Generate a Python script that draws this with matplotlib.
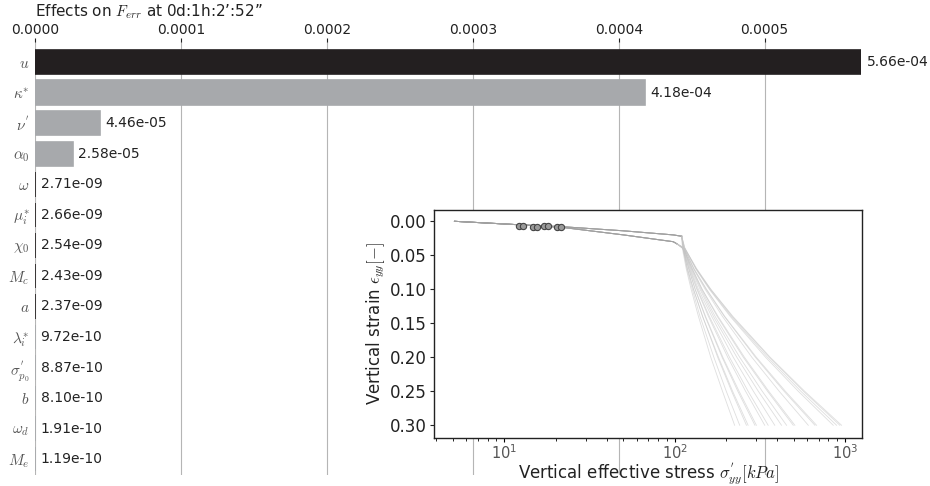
import matplotlib
matplotlib.use("Agg")
import matplotlib.pyplot as plt
import numpy as np

plt.rcParams["mathtext.fontset"] = "cm"
plt.rcParams["font.family"] = ["DejaVu Sans"]

# sensitivity bars
params = [r"$u$", r"$\kappa^{*}$", r"$\nu^{'}$", r"$\alpha_{0}$", r"$\omega$",
          r"$\mu_{i}^{*}$", r"$\chi_{0}$", r"$M_{c}$", r"$a$", r"$\lambda_{i}^{*}$",
          r"$\sigma^{'}_{p_0}$", r"$b$", r"$\omega_{d}$", r"$M_{e}$"]
effects = [5.66e-04, 4.18e-04, 4.46e-05, 2.58e-05, 2.71e-09, 2.66e-09, 2.54e-09,
           2.43e-09, 2.37e-09, 9.72e-10, 8.87e-10, 8.10e-10, 1.91e-10, 1.19e-10]
dark = [True, False, False, False, True, True, True, True, True,
        False, False, False, False, False]

# inset: oedometer curves, shared part before yield
upper_x = [5.1, 12, 22, 50, 98, 110]
upper_y = [0.0, 0.005, 0.008, 0.014, 0.020, 0.022]
lower_x = [5.1, 12, 22, 50, 98, 103]
lower_y = [0.0, 0.005, 0.009, 0.020, 0.030, 0.033]

# post-yield: stress (kPa) reached at each strain level, one row per curve
post_strain = [0.04, 0.07, 0.10, 0.14, 0.20, 0.25, 0.30]
post_stress = [
    [111, 117, 125, 138, 163, 191, 225],
    [112, 118, 127, 141, 170, 201, 241],
    [112, 119, 129, 146, 179, 216, 264],
    [112, 119, 129, 146, 181, 219, 270],
    [112, 121, 132, 151, 190, 235, 296],
    [112, 121, 132, 152, 192, 239, 302],
    [112, 122, 135, 158, 205, 261, 338],
    [113, 123, 136, 160, 210, 270, 354],
    [113, 124, 138, 165, 221, 290, 387],
    [113, 125, 141, 169, 232, 310, 424],
    [113, 126, 143, 173, 241, 327, 454],
    [113, 127, 145, 178, 253, 351, 497],
    [113, 127, 145, 180, 257, 357, 508],
    [114, 129, 151, 191, 284, 411, 609],
    [114, 130, 153, 196, 298, 439, 666],
    [114, 130, 154, 197, 302, 447, 681],
    [115, 133, 160, 212, 342, 532, 853],
    [115, 134, 161, 215, 351, 551, 893],
    [115, 134, 163, 218, 360, 570, 933],
    [115, 135, 163, 220, 364, 580, 955],
]
branch = ["up", "low", "up", "low", "low", "up", "low", "up", "up", "low",
          "low", "up", "low", "up", "low", "up", "up", "low", "up", "low"]

# markers on the first loading path
mark_x = [12.2, 12.9, 14.8, 15.6, 17.2, 18.1, 20.5, 21.4]
mark_y = [0.007, 0.007, 0.008, 0.008, 0.007, 0.007, 0.008, 0.008]

fig = plt.figure(figsize=(9.3, 4.86), dpi=100)
ax = fig.add_axes([0.0376, 0.0226, 0.8882, 0.891])

black = "#231f20"
grey = "#a7a9ac"
ypos = np.arange(len(params))
cols = [black if d else grey for d in dark]
ax.barh(ypos, effects, height=0.8, color=cols, edgecolor=cols, linewidth=1.2, zorder=2)
for y, v in zip(ypos, effects):
    ax.annotate(f"{v:.2e}", (v, y), xytext=(4, 0), textcoords="offset points",
                va="center", ha="left", fontsize=10, color="#222222")

ax.set_xlim(0, 5.66e-04)
ax.set_ylim(13.52, -0.66)
ax.xaxis.tick_top()
ax.set_xticks([0, 1e-4, 2e-4, 3e-4, 4e-4, 5e-4])
ax.set_xticklabels(["0.0000", "0.0001", "0.0002", "0.0003", "0.0004", "0.0005"])
ax.tick_params(axis="x", length=3, labelsize=10, colors="#222222", pad=0.5)
ax.set_yticks(ypos)
ax.set_yticklabels(params, fontsize=11, color="#555555")
ax.tick_params(axis="y", length=0, pad=4)
ax.grid(axis="x", color="#b5b5b5", linewidth=0.8, zorder=0)
for s in ax.spines.values():
    s.set_visible(False)

fig.text(0.0376, 1 - 12 / 486, "Effects on $F_{err}$ at 0d:1h:2\u2019:52\u201d",
         fontsize=11, color="#222222", va="center", ha="left")

# inset
ins = fig.add_axes([0.4667, 0.0988, 0.4602, 0.4691])
ins.set_facecolor("white")
for row, br in zip(post_stress, branch):
    if br == "up":
        ins.plot(upper_x, upper_y, color="#a0a0a0", linewidth=0.7, alpha=0.35)
        ins.plot([upper_x[-1]] + row, [upper_y[-1]] + post_strain,
                 color="#c4c4c4", linewidth=0.6, alpha=0.55)
    else:
        ins.plot(lower_x, lower_y, color="#a0a0a0", linewidth=0.7, alpha=0.35)
        ins.plot([lower_x[-1]] + row, [lower_y[-1]] + post_strain,
                 color="#c4c4c4", linewidth=0.6, alpha=0.55)
ins.plot(mark_x, mark_y, "o", markersize=4.5, markerfacecolor="#9a9a9a",
         markeredgecolor="#444444", markeredgewidth=0.8, linestyle="none")

ins.set_xscale("log")
ins.set_xlim(3.87, 1259)
ins.set_ylim(0.3187, -0.0166)
ins.set_yticks([0.0, 0.05, 0.10, 0.15, 0.20, 0.25, 0.30])
ins.set_yticklabels(["0.00", "0.05", "0.10", "0.15", "0.20", "0.25", "0.30"])
ins.tick_params(axis="y", labelsize=12, colors="#222222", length=3, pad=2)
ins.tick_params(axis="x", which="major", labelsize=10.5, labelcolor="#555555",
                length=3, pad=1)
ins.tick_params(axis="x", which="minor", length=2)
ins.set_xlabel(r"Vertical effective stress $\sigma^{'}_{yy}[kPa]$", fontsize=12,
               color="#222222", labelpad=-1)
ins.set_ylabel(r"Vertical strain $\epsilon_{yy}[-]$", fontsize=12, color="#222222",
               labelpad=2)
for s in ins.spines.values():
    s.set_color("#222222")
    s.set_linewidth(1.0)

fig.savefig("out.png", dpi=100)
